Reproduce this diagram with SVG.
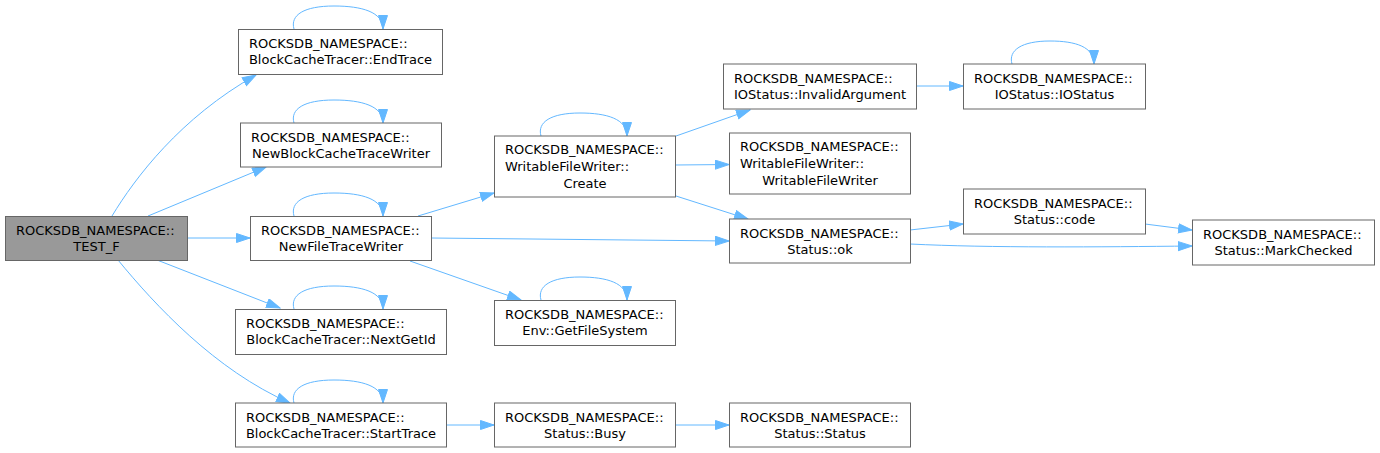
<svg xmlns="http://www.w3.org/2000/svg" width="1380" height="453" viewBox="0 0 1380 453">
<style>
.n rect{fill:#ffffff;stroke:#666666;stroke-width:1}
.n.hl rect{fill:#999999}
.n text{font-family:"DejaVu Sans","Liberation Sans",sans-serif;font-size:13px;fill:#000000}
.m{text-anchor:middle}
#edges path{fill:none;stroke:#63b8ff;stroke-width:1;marker-end:url(#ah)}
</style>
<defs>
<marker id="ah" markerUnits="userSpaceOnUse" markerWidth="15" markerHeight="11" refX="14" refY="5" orient="auto" viewBox="0 0 15 11">
<path d="M0.5,0.5 L14,5 L0.5,9.5 z" fill="#63b8ff" stroke="#63b8ff" stroke-width="1"/>
</marker>
</defs>
<rect width="1380" height="453" fill="#ffffff"/>
<g id="edges">
<path d="M294,29 C290,15 304,6 334,6 C362,6 383,12 383,29"/>
<path d="M294,123 C290,109 304,100 334,100 C362,100 383,106 383,123"/>
<path d="M294,216 C290,202 304,193 334,193 C362,193 383,199 383,216"/>
<path d="M294,309 C290,295 304,286 334,286 C362,286 383,292 383,309"/>
<path d="M294,403 C290,389 304,380 334,380 C362,380 383,386 383,403"/>
<path d="M541,136 C537,122 551,113 580,113 C607,113 627,119 627,136"/>
<path d="M541,300 C537,286 551,277 580,277 C607,277 627,283 627,300"/>
<path d="M1012,64 C1008,50 1022,41 1050,41 C1076,41 1094,47 1094,64"/>
<path d="M112,216 C135,178 180,118 256,75"/>
<path d="M148,216 L266,167"/>
<path d="M187,238 L250,238"/>
<path d="M157,260 L280,308"/>
<path d="M118,260 C155,305 215,370 290,403"/>
<path d="M418,216 L494,193"/>
<path d="M431,238 L729,241"/>
<path d="M410,261 L521,300"/>
<path d="M676,136 L750,110"/>
<path d="M675,165 L729,164.5"/>
<path d="M676,196 L748,219"/>
<path d="M916,86 L963,86"/>
<path d="M910,230 L963,224"/>
<path d="M910,244 C990,248 1100,247 1192,246"/>
<path d="M1145,224 L1192,230"/>
<path d="M446,425 L494,425"/>
<path d="M675,425 L729,425"/>
</g>
<g id="n_test_f" class="n hl"><rect x="5.5" y="216.5" width="182" height="44"/><text x="16" y="235">ROCKSDB_NAMESPACE::</text><text class="m" x="96.5" y="251">TEST_F</text></g>
<g id="n_endtrace" class="n"><rect x="238.5" y="29.5" width="204" height="45"/><text x="249" y="48">ROCKSDB_NAMESPACE::</text><text class="m" x="340.5" y="64">BlockCacheTracer::EndTrace</text></g>
<g id="n_newblockcachetracewriter" class="n"><rect x="240.5" y="123" width="201" height="44"/><text x="251" y="142">ROCKSDB_NAMESPACE::</text><text class="m" x="341" y="158">NewBlockCacheTraceWriter</text></g>
<g id="n_newfiletracewriter" class="n"><rect x="250.5" y="216.5" width="181" height="44"/><text x="261" y="235">ROCKSDB_NAMESPACE::</text><text class="m" x="341" y="251">NewFileTraceWriter</text></g>
<g id="n_nextgetid" class="n"><rect x="235.5" y="309.5" width="211" height="45"/><text x="246" y="328">ROCKSDB_NAMESPACE::</text><text class="m" x="341" y="344">BlockCacheTracer::NextGetId</text></g>
<g id="n_starttrace" class="n"><rect x="235.5" y="403" width="211" height="44"/><text x="246" y="422">ROCKSDB_NAMESPACE::</text><text class="m" x="341" y="438">BlockCacheTracer::StartTrace</text></g>
<g id="n_create" class="n"><rect x="494.5" y="136" width="181" height="61"/><text x="505" y="154">ROCKSDB_NAMESPACE::</text><text x="505" y="171">WritableFileWriter::</text><text class="m" x="585" y="188">Create</text></g>
<g id="n_getfilesystem" class="n"><rect x="494.5" y="300.5" width="181" height="45"/><text x="505" y="319">ROCKSDB_NAMESPACE::</text><text class="m" x="585" y="335">Env::GetFileSystem</text></g>
<g id="n_busy" class="n"><rect x="494.5" y="403" width="181" height="44"/><text x="505" y="422">ROCKSDB_NAMESPACE::</text><text class="m" x="585" y="438">Status::Busy</text></g>
<g id="n_invalidargument" class="n"><rect x="723.5" y="64" width="193" height="45"/><text x="734" y="83">ROCKSDB_NAMESPACE::</text><text class="m" x="820" y="99">IOStatus::InvalidArgument</text></g>
<g id="n_writablefilewriter" class="n"><rect x="729.5" y="133" width="181" height="61"/><text x="740" y="151">ROCKSDB_NAMESPACE::</text><text x="740" y="168">WritableFileWriter::</text><text class="m" x="820" y="185">WritableFileWriter</text></g>
<g id="n_ok" class="n"><rect x="729.5" y="219" width="181" height="44"/><text x="740" y="238">ROCKSDB_NAMESPACE::</text><text class="m" x="820" y="254">Status::ok</text></g>
<g id="n_status" class="n"><rect x="729.5" y="403" width="181" height="44"/><text x="740" y="422">ROCKSDB_NAMESPACE::</text><text class="m" x="820" y="438">Status::Status</text></g>
<g id="n_iostatus" class="n"><rect x="963.5" y="64" width="182" height="45"/><text x="974" y="83">ROCKSDB_NAMESPACE::</text><text class="m" x="1054.5" y="99">IOStatus::IOStatus</text></g>
<g id="n_code" class="n"><rect x="963.5" y="189" width="182" height="45"/><text x="974" y="208">ROCKSDB_NAMESPACE::</text><text class="m" x="1054.5" y="224">Status::code</text></g>
<g id="n_markchecked" class="n"><rect x="1192.5" y="220" width="182" height="45"/><text x="1203" y="239">ROCKSDB_NAMESPACE::</text><text class="m" x="1283.5" y="255">Status::MarkChecked</text></g>
</svg>
